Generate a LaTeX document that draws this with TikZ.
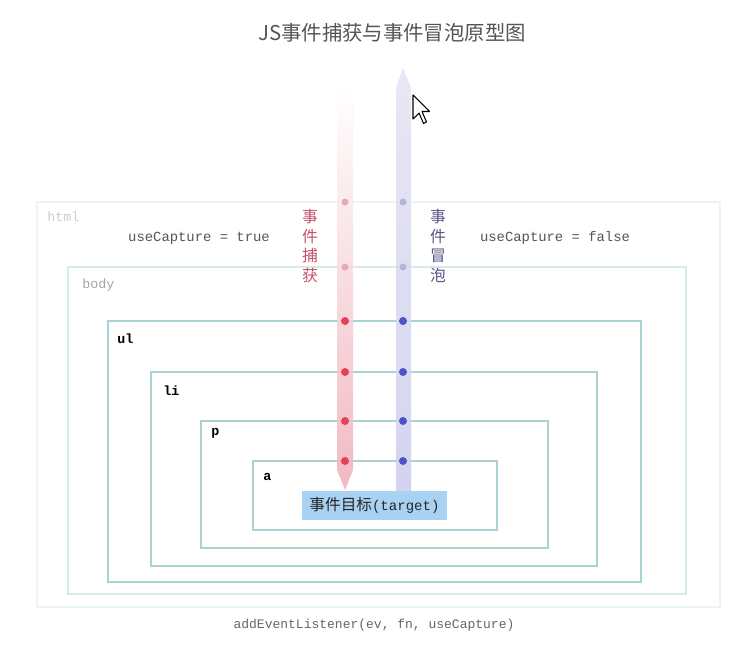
\documentclass[tikz,border=0pt]{standalone}
\usepackage{fontspec}
\setmonofont{Liberation Mono}
\newfontfamily\cjk{Noto Sans CJK SC}
\definecolor{htmlline}{HTML}{EDF4F4}
\definecolor{bodyline}{HTML}{D6EAEA}
\definecolor{boxline}{HTML}{A9D3D3}
\definecolor{capTop}{HTML}{FFFFFF}
\definecolor{capBot}{HTML}{F0B2BC}
\definecolor{bubTop}{HTML}{E6E6F4}
\definecolor{bubBot}{HTML}{CFCFEE}
\definecolor{capDot}{HTML}{E6405C}
\definecolor{bubDot}{HTML}{5252C8}
\definecolor{capDotF}{HTML}{E8A8B4}
\definecolor{bubDotF}{HTML}{B4B4DC}
\definecolor{capText}{HTML}{C4506A}
\definecolor{bubText}{HTML}{5C5488}
\definecolor{targetBlue}{HTML}{A9D1F1}
\definecolor{grayText}{HTML}{555555}
\tikzset{
  frame/.style={draw=boxline, line width=1.2pt},
  lbl/.style={anchor=west, inner sep=0pt, font=\ttfamily\bfseries\fontsize{7.6}{9}\selectfont, text=black},
  codetxt/.style={inner sep=0pt, font=\ttfamily\fontsize{7.9}{9}\selectfont, text=grayText},
  vert/.style={align=center, inner sep=0pt, font=\cjk\fontsize{9}{11.3}\selectfont},
}
\begin{document}
\begin{tikzpicture}[x=0.02cm,y=-0.02cm]
\useasboundingbox (0,0) rectangle (750,659);
\fill[white] (0,0) rectangle (750,659);

% title
\node[inner sep=0pt, font=\cjk\fontsize{11.6}{14}\selectfont, text=grayText] (title) at (392,33) {JS事件捕获与事件冒泡原型图};

% nested boxes
\draw[draw=htmlline, line width=1.2pt] (37,202) rectangle (720,607);
\draw[draw=bodyline, line width=1.1pt] (68,267) rectangle (686,594);
\draw[frame] (108,321) rectangle (641,582);
\draw[frame] (151,372) rectangle (597,566);
\draw[frame] (201,421) rectangle (548,548);
\draw[frame] (253,461) rectangle (497,530);

% labels of boxes
\node[lbl, font=\ttfamily\fontsize{7.6}{9}\selectfont, text=black!20] (lhtml) at (47,217) {html};
\node[lbl, font=\ttfamily\fontsize{7.6}{9}\selectfont, text=black!35] (lbody) at (82,285) {body};
\node[lbl] (lul) at (117,339) {ul};
\node[lbl] (lli) at (163,391) {li};
\node[lbl] (lp) at (211,433) {p};
\node[lbl] (la) at (263,477) {a};

% capture bar (down)
\shade[top color=capTop, bottom color=capBot, opacity=0.9]
  (337,85) -- (353,85) -- (353,470) -- (345,490) -- (337,470) -- cycle;
% bubble bar (up)
\shade[top color=bubTop, bottom color=bubBot, opacity=0.9]
  (396,88) -- (403,68) -- (411,88) -- (411,491) -- (396,491) -- cycle;

% dots
\foreach \yy in {202,267} {
  \fill[capDotF] (345,\yy) circle (3.5);
  \fill[bubDotF] (403,\yy) circle (3.5);
}
\foreach \yy in {321,372,421,461} {
  \fill[capDot] (345,\yy) circle (4);
  \fill[bubDot] (403,\yy) circle (4);
}

% target
\node[fill=targetBlue, minimum width=2.9cm, minimum height=0.58cm, inner sep=0pt, text=black!85] (target) at (374.5,505.5)
  {\cjk\fontsize{8.9}{10}\selectfont 事件目标\ttfamily\fontsize{8}{10}\selectfont(target)};

% vertical labels
\node[vert, text=capText] (caplbl) at (310,246) {事\\件\\捕\\获};
\node[vert, text=bubText] (bublbl) at (438,246) {事\\件\\冒\\泡};

% useCapture labels
\node[codetxt] (ctrue) at (199,238) {useCapture = true};
\node[codetxt] (cfalse) at (555,238) {useCapture = false};
\node[codetxt, font=\ttfamily\fontsize{7.4}{9}\selectfont, text=black!60] (api) at (374,625) {addEventListener(ev, fn, useCapture)};

% mouse cursor
\draw[fill=white, line width=0.6pt, line join=round]
  (413,95) -- (413,119) -- (419,113) -- (423.5,123.5) -- (426.5,122) -- (422,111.5) -- (429.5,111.5) -- cycle;
\end{tikzpicture}
\end{document}
